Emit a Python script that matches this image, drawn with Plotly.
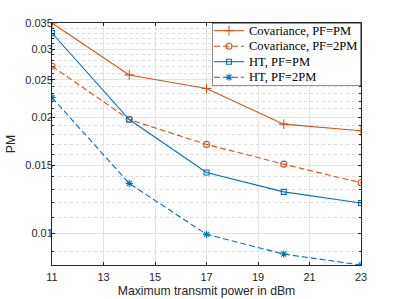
import numpy as np
import plotly.graph_objects as go

power_dbm = [11, 14, 17, 20, 23]
cov_pf_pm = [0.03507, 0.02573, 0.02372, 0.01918, 0.01844]
cov_pf_2pm = [0.02710, 0.01972, 0.01700, 0.01511, 0.01352]
ht_pf_pm = [0.03304, 0.01972, 0.01438, 0.01281, 0.01198]
ht_pf_2pm = [0.02248, 0.01347, 0.00994, 0.00884, 0.00828]

x_ticks = [11, 13, 15, 17, 19, 21, 23]
y_ticks = [0.01, 0.015, 0.02, 0.025, 0.03, 0.035]
y_tick_text = ["0.01", "0.015", "0.02", "0.025", "0.03", "0.035"]
y_minor = [round(0.008 + 0.001 * i, 3) for i in range(28)]

ORANGE = "#D95319"
BLUE = "#0072BD"
AXIS = "#262626"

series = [
    ("Covariance, PF=PM", cov_pf_pm, ORANGE, "solid", "cross-thin-open", 7),
    ("Covariance, PF=2PM", cov_pf_2pm, ORANGE, "6px,3px", "circle-open", 6),
    ("HT, PF=PM", ht_pf_pm, BLUE, "solid", "square-open", 5),
    ("HT, PF=2PM", ht_pf_2pm, BLUE, "6px,3px", "asterisk-open", 6),
]

# layout geometry (pixels)
W, H = 399, 299
ML, MR, MT, MB = 52, 38, 23, 34
PW, PH = W - ML - MR, H - MT - MB
LEG_W, LEG_H = 149, 63
LEG_ROW0, LEG_ROWSTEP = 7.7, 15.5

fig = go.Figure()
for name, vals, color, dash, sym, msize in series:
    fig.add_trace(go.Scatter(
        x=power_dbm, y=vals, name=name, mode="lines+markers", showlegend=False,
        line=dict(color=color, width=1.1, dash=dash),
        marker=dict(symbol=sym, size=msize, color=color, line=dict(color=color, width=1.1)),
    ))

# hand-built legend in an overlay subplot measured in pixels
fig.add_trace(go.Scatter(
    x=[0, LEG_W, LEG_W, 0, 0], y=[0, 0, LEG_H, LEG_H, 0],
    xaxis="x2", yaxis="y2", mode="lines", fill="toself", fillcolor="white",
    line=dict(color=AXIS, width=1), showlegend=False, hoverinfo="skip", cliponaxis=False,
))
annotations = []
for i, (name, vals, color, dash, sym, msize) in enumerate(series):
    ry = LEG_ROW0 + i * LEG_ROWSTEP
    fig.add_trace(go.Scatter(
        x=[2, 32], y=[ry, ry], xaxis="x2", yaxis="y2", mode="lines",
        line=dict(color=color, width=1.1, dash=dash), showlegend=False, hoverinfo="skip",
    ))
    fig.add_trace(go.Scatter(
        x=[17], y=[ry], xaxis="x2", yaxis="y2", mode="markers",
        marker=dict(symbol=sym, size=msize, color=color, line=dict(color=color, width=1.1)),
        showlegend=False, hoverinfo="skip",
    ))
    annotations.append(dict(
        x=34.5, y=ry, xref="x2", yref="y2", text=name, showarrow=False,
        xanchor="left", yanchor="middle",
        font=dict(family="Liberation Serif, Times New Roman, serif", size=12.5, color="#000000"),
    ))

fig.update_layout(
    width=W, height=H,
    margin=dict(l=ML, r=MR, t=MT, b=MB, autoexpand=False),
    paper_bgcolor="white", plot_bgcolor="white",
    font=dict(family="Liberation Sans, Arial, sans-serif", size=11, color=AXIS),
    showlegend=False,
    annotations=annotations,
    xaxis=dict(
        range=[11, 23], tickmode="array", tickvals=x_ticks,
        showgrid=True, gridcolor="#e3e3e3", gridwidth=1,
        showline=True, linecolor=AXIS, linewidth=1, mirror="ticks",
        ticks="inside", ticklen=3, tickcolor=AXIS,
        ticklabelstandoff=2,
        zeroline=False,
        title=dict(text="Maximum transmit power in dBm", standoff=4,
                   font=dict(size=12.2)),
        automargin=False,
    ),
    yaxis=dict(
        type="log",
        range=[np.log10(min(ht_pf_2pm)), np.log10(max(cov_pf_pm))],
        tickmode="array", tickvals=y_ticks, ticktext=y_tick_text,
        showgrid=True, gridcolor="#e3e3e3", gridwidth=1,
        showline=True, linecolor=AXIS, linewidth=1, mirror="ticks",
        ticks="inside", ticklen=3, tickcolor=AXIS,
        ticklabelstandoff=-4,
        minor=dict(tickmode="array", tickvals=y_minor, showgrid=True,
                   gridcolor="#dcdcdc", griddash="dot", gridwidth=1,
                   ticks="inside", ticklen=2, tickcolor=AXIS),
        zeroline=False,
        title=dict(text="PM", standoff=6, font=dict(size=12.2)),
        automargin=False,
    ),
    xaxis2=dict(domain=[1 - LEG_W / PW, 1], range=[0, LEG_W], anchor="y2",
                visible=False, fixedrange=True),
    yaxis2=dict(domain=[1 - LEG_H / PH, 1], range=[LEG_H, 0], anchor="x2",
                visible=False, fixedrange=True),
)

fig.write_html("out.html", config={"displayModeBar": False},
               post_script="document.body.style.margin='0';document.body.style.padding='0';")
